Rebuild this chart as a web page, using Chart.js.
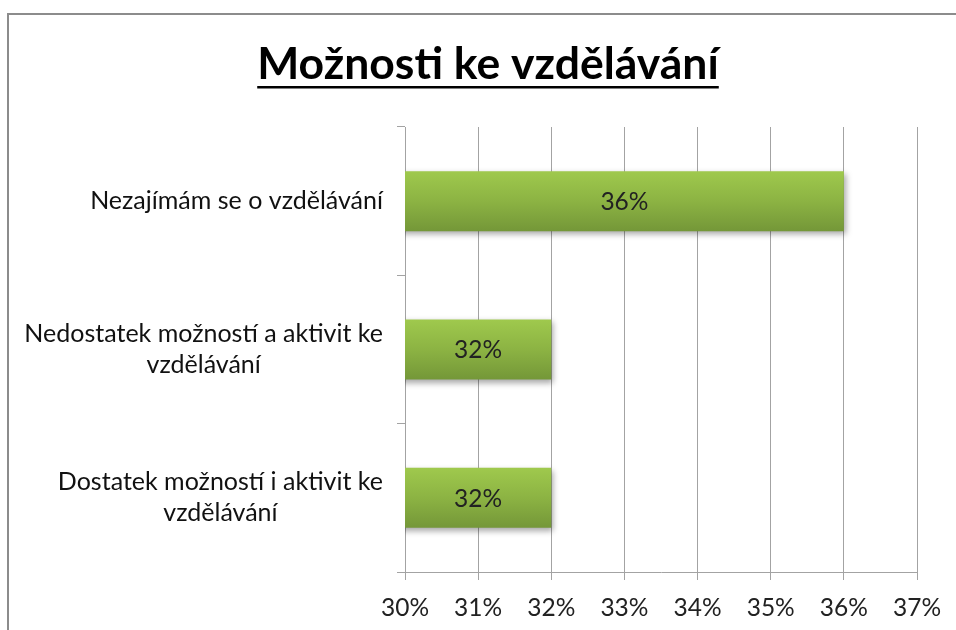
<!DOCTYPE html>
<html>
<head>
<meta charset="utf-8">
<script src="https://cdn.jsdelivr.net/npm/chart.js@4/dist/chart.umd.min.js"></script>
<style>
  html, body { margin: 0; padding: 0; background: #fff; overflow: hidden; }
  #wrap { position: relative; width: 956px; height: 630px; }
  #frame { position: absolute; left: 7px; top: 13px; width: 1000px; height: 700px; border: 2px solid #8c8c8c; pointer-events: none; }
  canvas { position: absolute; left: 0; top: 0; }
</style>
</head>
<body>
<div id="wrap">
  <canvas id="chart" width="956" height="630"></canvas>
  <div id="frame"></div>
</div>
<script>
// data
const TITLE = 'Možnosti ke vzdělávání';
const categories = [
  ['Nezajímám se o vzdělávání'],
  ['Nedostatek možností a aktivit ke', 'vzdělávání'],
  ['Dostatek možností i aktivit ke', 'vzdělávání']
];
const values = [36, 32, 32];
const xMin = 30, xMax = 37, xStep = 1;

const FONT = "Lato, 'Open Sans', sans-serif";
const GRID = '#a3a3a3';
const BAR_PCT = 0.405;

// underlined title, centred over the frame
const titlePlugin = {
  id: 'underlinedTitle',
  afterDraw(chart) {
    const ctx = chart.ctx;
    ctx.save();
    ctx.font = 'bold 44.5px ' + FONT;
    ctx.fillStyle = '#000';
    ctx.textAlign = 'center';
    ctx.textBaseline = 'alphabetic';
    const cx = 488;
    ctx.fillText(TITLE, cx, 79);
    const w = ctx.measureText(TITLE).width;
    ctx.fillRect(cx - w / 2, 86, w, 2.5);
    ctx.restore();
  }
};

// category labels: block right-aligned to the axis, lines centred inside it
const yLabelPlugin = {
  id: 'yLabels',
  afterDraw(chart) {
    const ctx = chart.ctx, y = chart.scales.y;
    ctx.save();
    ctx.font = '25px ' + FONT;
    ctx.fillStyle = '#111';
    ctx.textAlign = 'center';
    ctx.textBaseline = 'middle';
    const right = y.right - 8 - 14;
    const lh = 31;
    categories.forEach((lines, i) => {
      const w = Math.max(...lines.map(l => ctx.measureText(l).width));
      const cy = y.getPixelForValue(i);
      const top = cy - (lines.length - 1) * lh / 2;
      lines.forEach((l, j) => ctx.fillText(l, right - w / 2, top + j * lh));
    });
    ctx.restore();
  }
};

// soft shadow under the bars
const barShadow = {
  id: 'barShadow',
  beforeDatasetsDraw(chart) {
    const ctx = chart.ctx;
    ctx.save();
    ctx.shadowColor = 'rgba(0,0,0,0.35)';
    ctx.shadowBlur = 6;
    ctx.shadowOffsetX = 2;
    ctx.shadowOffsetY = 3;
  },
  afterDatasetsDraw(chart) {
    chart.ctx.restore();
  }
};

// value labels in the middle of the visible part of each bar
const barLabels = {
  id: 'barLabels',
  afterDraw(chart) {
    const ctx = chart.ctx;
    const left = chart.chartArea.left;
    ctx.save();
    ctx.font = '24.5px ' + FONT;
    ctx.fillStyle = '#222';
    ctx.textAlign = 'center';
    ctx.textBaseline = 'middle';
    chart.getDatasetMeta(0).data.forEach((bar, i) => {
      const start = Math.max(bar.base, left);
      ctx.fillText(values[i] + '%', (bar.x + start) / 2, bar.y + 1);
    });
    ctx.restore();
  }
};

function barGradient(c) {
  const chart = c.chart, y = chart.scales.y;
  if (!y || c.dataIndex === undefined || !chart.chartArea) return '#8cb345';
  const cy = y.getPixelForValue(c.dataIndex);
  const half = (y.height / categories.length) * BAR_PCT / 2;
  if (!Number.isFinite(cy) || !Number.isFinite(half)) return '#8cb345';
  const g = chart.ctx.createLinearGradient(0, cy - half, 0, cy + half);
  g.addColorStop(0, '#9fc94d');
  g.addColorStop(0.5, '#8cb343');
  g.addColorStop(1, '#749738');
  return g;
}

new Chart(document.getElementById('chart'), {
  type: 'bar',
  data: {
    labels: categories,
    datasets: [{
      data: values,
      backgroundColor: barGradient,
      borderWidth: 0,
      barPercentage: BAR_PCT,
      categoryPercentage: 1
    }]
  },
  plugins: [titlePlugin, yLabelPlugin, barShadow, barLabels],
  options: {
    indexAxis: 'y',
    responsive: false,
    animation: false,
    devicePixelRatio: 1,
    layout: { padding: { top: 127, right: 39, bottom: 0, left: 0 } },
    plugins: {
      legend: { display: false },
      tooltip: { enabled: false }
    },
    scales: {
      x: {
        min: xMin,
        max: xMax,
        ticks: {
          stepSize: xStep,
          color: '#222',
          padding: 13,
          font: { family: FONT, size: 24.5 },
          callback: v => v + '%'
        },
        grid: { color: GRID, tickLength: 8, tickColor: GRID },
        border: { color: GRID },
        afterFit: s => { s.height = 58; }
      },
      y: {
        ticks: { display: false },
        grid: { drawOnChartArea: false, tickLength: 8, color: GRID, offset: true },
        border: { color: GRID },
        afterFit: s => { s.width = 405; }
      }
    }
  }
});
</script>
</body>
</html>
